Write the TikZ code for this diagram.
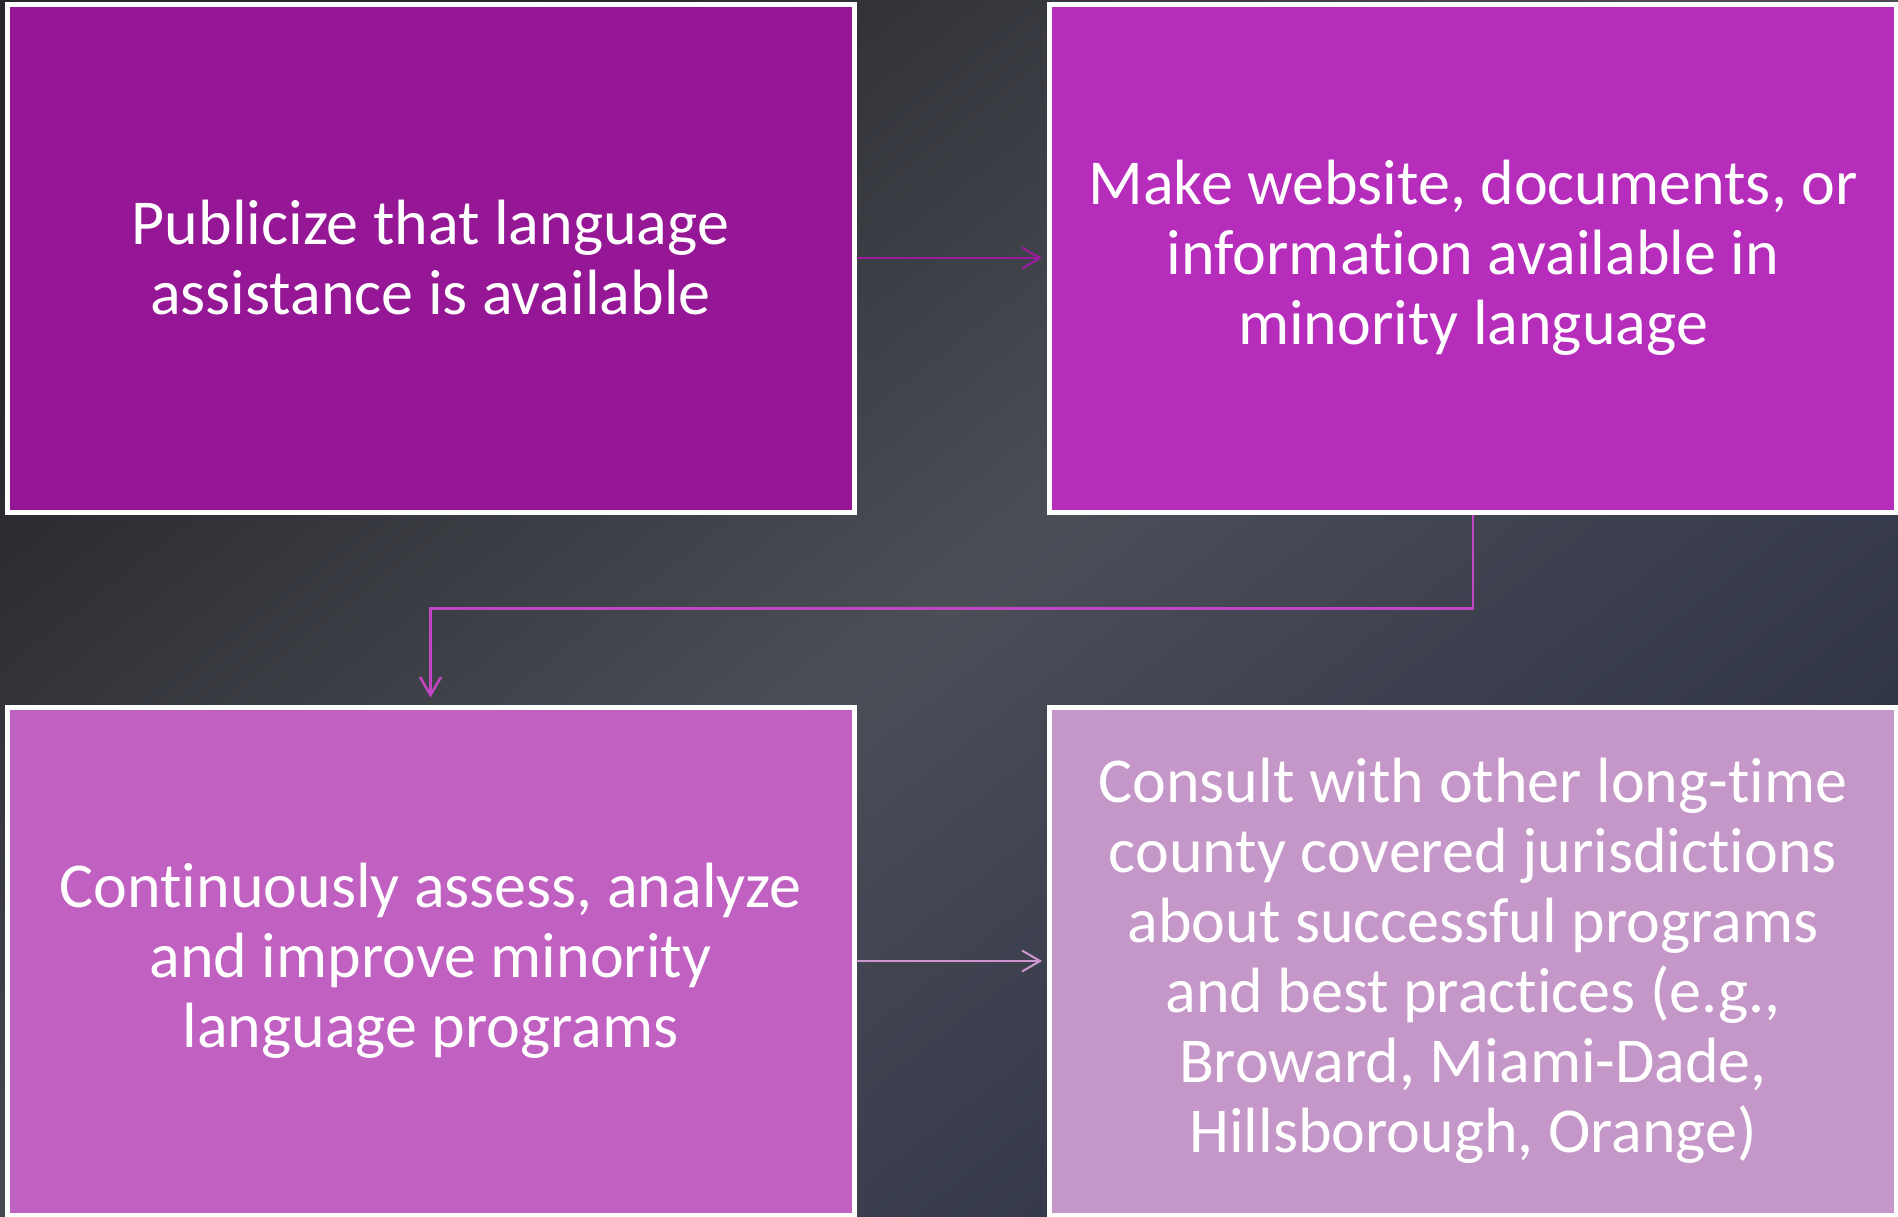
\documentclass[tikz,border=0pt]{standalone}
\usepackage{fontspec}
\setmainfont{Carlito}[Ligatures={NoCommon,NoRare,NoContextual}, Contextuals=NoAlternate]
\usepackage{xcolor}
\usepackage{tikz}
\usetikzlibrary{positioning,calc,arrows.meta}

\definecolor{bgdark}{HTML}{26272B}
\definecolor{bgmid}{HTML}{4B4E57}
\definecolor{bgnavy}{HTML}{2C3145}
\definecolor{stepone}{HTML}{951795}
\definecolor{steptwo}{HTML}{B52DBA}
\definecolor{stepthree}{HTML}{C060C0}
\definecolor{stepfour}{HTML}{C596C8}
\definecolor{linkone}{HTML}{9C1A9C}
\definecolor{linktwo}{HTML}{C246C4}
\definecolor{linkthree}{HTML}{CE96CE}

\tikzset{
    stepbox/.style={draw=white, line width=5pt, minimum width=847pt, minimum height=508pt,
        inner sep=0pt, text=white, align=center, font=\fontsize{64}{70}\selectfont},
    linkarrow/.style={line width=2pt, -{Straight Barb[length=18pt,width=21pt]}}
}

\begin{document}
\begin{tikzpicture}[x=1pt, y=-1pt]
    \useasboundingbox (0,0) rectangle (1898,1216);
    \shade[left color=bgdark, right color=bgnavy, middle color=bgmid, shading angle=38] (0,0) rectangle (1898,1216);

    \node[stepbox, fill=stepone] (publicize) at (430.5,258) {Publicize that language\\assistance is available};
    \node[stepbox, fill=steptwo] (website) at (1473,258) {Make website, documents, or\\information available in\\minority language};
    \node[stepbox, fill=stepthree] (assess) at (430.5,961) {Continuously assess, analyze\\and improve minority\\language programs};
    \node[stepbox, fill=stepfour] (consult) at (1473,961) {Consult with other long-time\\county covered jurisdictions\\about successful programs\\and best practices (e.g.,\\Broward, Miami-Dade,\\Hillsborough, Orange)};

    \draw[linkarrow, draw=linkone, shorten >=5pt] (publicize.east) -- (website.west);
    \draw[linkarrow, draw=linktwo, line width=2.5pt, shorten >=7pt] (website.south) -- ++(0,94) -| (assess.north);
    \draw[linkarrow, draw=linkthree, shorten >=5pt] (assess.east) -- (consult.west);
\end{tikzpicture}
\end{document}
